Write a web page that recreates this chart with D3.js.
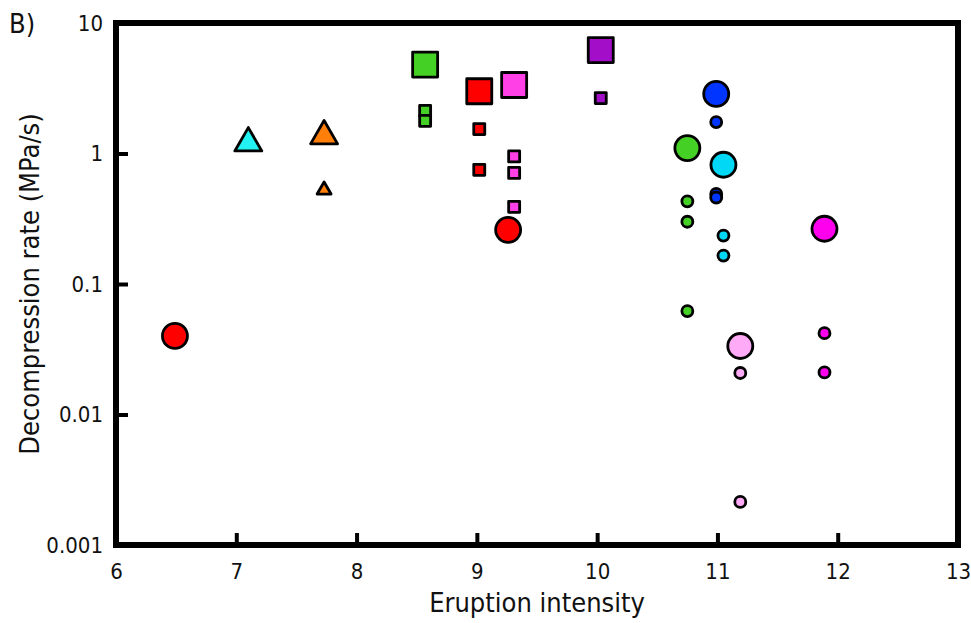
<!DOCTYPE html>
<html>
<head>
<meta charset="utf-8">
<script src="https://cdn.jsdelivr.net/npm/d3@7"></script>
<style>
  body { margin: 0; background: #fff; }
  text { font-family: "Liberation Sans Narrow", "DejaVu Sans Condensed", "DejaVu Sans", sans-serif; font-stretch: condensed; fill: #111; }
</style>
</head>
<body>
<div id="chart"></div>
<script>
// Groups of points: one colour + shape each
var groupNames  = ['redCircle', 'cyanTri', 'orangeTri', 'greenSq', 'redSq', 'pinkSq', 'redCircle2', 'purpleSq',
                   'blueCircle', 'greenCircle', 'cyanCircle', 'magentaCircle', 'lightPinkCircle']
var groupColors = ['#ff0000', '#22f2f2', '#ff7f0a', '#44d024', '#ff0000', '#ff40e6', '#ff0000', '#a30ec8',
                   '#0035ff', '#44d024', '#00d8f5', '#ff00ee', '#ffaaf6']
var groupShapes = ['circle', 'triangle', 'triangle', 'square', 'square', 'square', 'circle', 'square',
                   'circle', 'circle', 'circle', 'circle', 'circle']

// Points: group, eruption intensity, decompression rate, big / small marker
var pointGroup = ['redCircle', 'cyanTri', 'orangeTri', 'orangeTri',
                  'greenSq', 'greenSq', 'greenSq',
                  'redSq', 'redSq', 'redSq',
                  'pinkSq', 'pinkSq', 'pinkSq', 'pinkSq',
                  'redCircle2',
                  'purpleSq', 'purpleSq',
                  'blueCircle', 'blueCircle', 'blueCircle', 'blueCircle',
                  'greenCircle', 'greenCircle', 'greenCircle', 'greenCircle',
                  'cyanCircle', 'cyanCircle', 'cyanCircle',
                  'magentaCircle', 'magentaCircle', 'magentaCircle',
                  'lightPinkCircle', 'lightPinkCircle', 'lightPinkCircle']
var pointX = [6.49, 7.10, 7.73, 7.73,
              8.57, 8.57, 8.57,
              9.02, 9.02, 9.02,
              9.31, 9.31, 9.31, 9.31,
              9.26,
              10.03, 10.03,
              10.99, 10.99, 10.99, 10.99,
              10.75, 10.75, 10.75, 10.75,
              11.05, 11.05, 11.05,
              11.89, 11.89, 11.89,
              11.19, 11.19, 11.19]
var pointY = [0.040, 1.20, 1.36, 0.525,
              4.8, 2.12, 1.78,
              3.0, 1.54, 0.75,
              3.35, 0.95, 0.71, 0.39,
              0.26,
              6.2, 2.66,
              2.86, 1.74, 0.49, 0.46,
              1.10, 0.43, 0.30, 0.062,
              0.82, 0.235, 0.165,
              0.265, 0.042, 0.021,
              0.0335, 0.0208, 0.00214]
var pointBig = [1, 1, 1, 0,
                1, 0, 0,
                1, 0, 0,
                1, 0, 0, 0,
                1,
                1, 0,
                1, 0, 0, 0,
                1, 0, 0, 0,
                1, 0, 0,
                1, 0, 0,
                1, 0, 0]

var xTicks = [6, 7, 8, 9, 10, 11, 12, 13]
var yTicks = [0.001, 0.01, 0.1, 1, 10]

var width = 971, height = 623
var plotLeft = 116, plotRight = 958, plotTop = 23, plotBottom = 545

var svg = d3.select('#chart').append('svg')
    .attr('width', width)
    .attr('height', height)

var x = d3.scaleLinear().domain([6, 13]).range([plotLeft, plotRight])
var y = d3.scaleLog().domain([0.001, 10]).range([plotBottom, plotTop])

var color = d3.scaleOrdinal().domain(groupNames).range(groupColors)
var shape = d3.scaleOrdinal().domain(groupNames).range(groupShapes)

// areas for d3.symbol
var symbolArea = function (s, big) {
    if (s === 'circle') return Math.PI * Math.pow(big ? 12.5 : 5.5, 2)
    if (s === 'square') return Math.pow(big ? 25 : 11, 2)
    return Math.sqrt(3) / 4 * Math.pow(big ? 27 : 14, 2)
}
var symbolType = { circle: d3.symbolCircle, square: d3.symbolSquare, triangle: d3.symbolTriangle }

// Axes with inward ticks, left and bottom only
var xAxis = svg.append('g')
    .attr('transform', 'translate(0,' + plotBottom + ')')
    .call(d3.axisBottom(x).tickValues(xTicks).tickSize(-12).tickPadding(18).tickFormat(d3.format('d')))
var yAxis = svg.append('g')
    .attr('transform', 'translate(' + plotLeft + ',0)')
    .call(d3.axisLeft(y).tickValues(yTicks).tickSize(-12).tickPadding(13).tickFormat(function (d) { return String(d) }))

svg.selectAll('.domain').remove()
svg.selectAll('.tick line').attr('stroke', '#000').attr('stroke-width', 4)
svg.selectAll('.tick text').style('font-size', '22px').attr('fill', '#111')
xAxis.selectAll('.tick text').attr('dy', '0.71em')

// Frame
svg.append('rect')
    .attr('x', plotLeft)
    .attr('y', plotTop)
    .attr('width', plotRight - plotLeft)
    .attr('height', plotBottom - plotTop)
    .attr('fill', 'none')
    .attr('stroke', '#000')
    .attr('stroke-width', 6)

// Points
var points = pointX.map(function (v, i) {
    return { x: v, y: pointY[i], group: pointGroup[i], big: pointBig[i] === 1 }
})

svg.append('g').selectAll('path')
    .data(points)
    .enter()
    .append('path')
    .attr('transform', function (d) { return 'translate(' + x(d.x) + ',' + y(d.y) + ')' })
    .attr('d', function (d) {
        var s = shape(d.group)
        return d3.symbol().type(symbolType[s]).size(symbolArea(s, d.big))()
    })
    .attr('fill', function (d) { return color(d.group) })
    .attr('stroke', '#000')
    .attr('stroke-width', 2.8)
    .attr('stroke-linejoin', 'round')

// Labels
svg.append('text')
    .attr('x', (plotLeft + plotRight) / 2)
    .attr('y', 612)
    .attr('text-anchor', 'middle')
    .style('font-size', '27px')
    .text('Eruption intensity')

svg.append('text')
    .attr('transform', 'translate(39,' + ((plotTop + plotBottom) / 2) + ') rotate(-90)')
    .attr('text-anchor', 'middle')
    .style('font-size', '27px')
    .text('Decompression rate (MPa/s)')

svg.append('text')
    .attr('x', 9)
    .attr('y', 33)
    .style('font-size', '27px')
    .text('B)')
</script>
</body>
</html>
